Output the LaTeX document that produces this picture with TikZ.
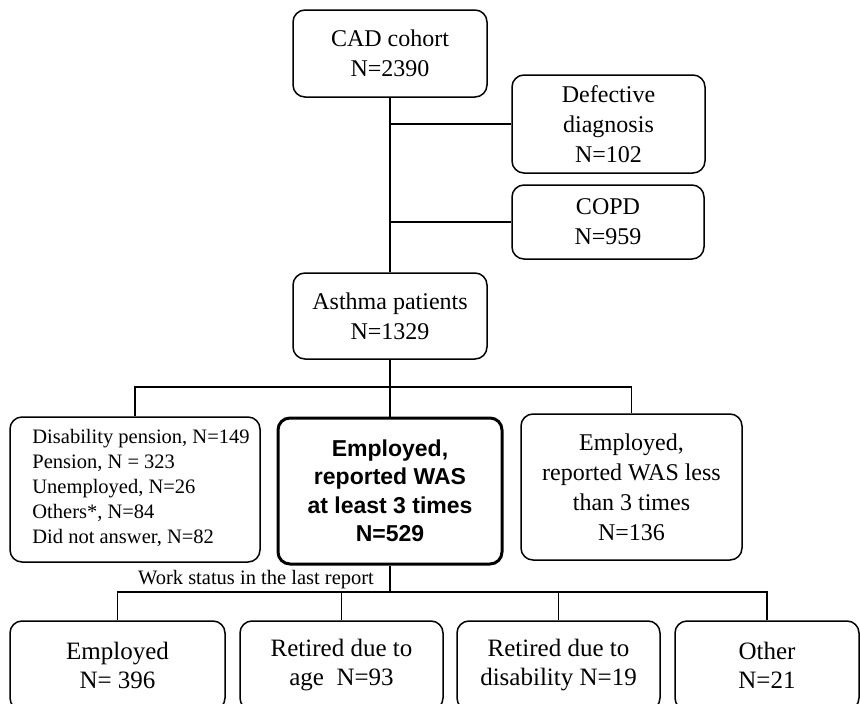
\documentclass[tikz,border=0pt]{standalone}
\usepackage{fontspec}
\setmainfont{Liberation Serif}
\newfontfamily\boldsans{Liberation Sans}
\begin{document}
\begin{tikzpicture}[x=1pt,y=-1pt,
  box/.style={draw, line width=1.5pt, rounded corners=12pt, align=center, inner sep=0pt,
    font=\fontsize{24}{30}\selectfont},
  bigbox/.style={box, line width=3pt, font=\boldsans\bfseries\fontsize{23}{28.5}\selectfont},
  listtext/.style={align=left, inner sep=0pt, font=\fontsize{20.5}{25}\selectfont},
  botbox/.style={box, font=\fontsize{25}{29}\selectfont},
  link/.style={line width=1.5pt}]
\useasboundingbox (0,0) rectangle (860,704);

\node[box, minimum width=194pt, minimum height=87pt] (cad) at (390,53.5) {CAD cohort\\N=2390};
\node[box, minimum width=193pt, minimum height=98pt] (def) at (608.5,124) {Defective\\diagnosis\\N=102};
\node[box, minimum width=192pt, minimum height=74pt] (copd) at (608,222) {COPD\\N=959};
\node[box, minimum width=194pt, minimum height=86pt] (asth) at (390,316) {Asthma patients\\N=1329};

\node[box, minimum width=250pt, minimum height=145pt] (left) at (135,489.5) {};
\node[listtext] (lefttext) at (141,488)
  {Disability pension, N=149\\Pension, N = 323\\Unemployed, N=26\\Others*, N=84\\Did not answer, N=82};
\node[bigbox, minimum width=224pt, minimum height=146pt] (emp) at (390,491)
  {Employed,\\reported WAS\\at least 3 times\\N=529};
\node[box, minimum width=221pt, minimum height=146pt] (right) at (631.5,487)
  {Employed,\\reported WAS less\\than 3 times\\N=136};

\node[font=\fontsize{20.5}{25}\selectfont, inner sep=0pt] (ws) at (256,580) {Work status in the last report};

\node[botbox, minimum width=215pt, minimum height=89pt] (b1) at (117.5,665.5) {Employed\\N= 396};
\node[botbox, minimum width=203pt, minimum height=89pt] (b2) at (341.5,665.5) {Retired due to\\age\ \ N=93};
\node[botbox, minimum width=203pt, minimum height=89pt] (b3) at (558.5,665.5) {Retired due to\\disability N=19};
\node[botbox, minimum width=184pt, minimum height=89pt] (b4) at (767,665.5) {Other\\N=21};

\coordinate (h1) at (390,387);
\coordinate (h2) at (390,592);

\draw[link] (cad.south) -- (asth.north);
\draw[link] (cad.south |- def.west) -- (def.west);
\draw[link] (cad.south |- copd.west) -- (copd.west);

\draw[link] (asth.south) -- (emp.north);
\draw[link] (left.north) -- (left.north |- h1) -- (right.north |- h1) -- (right.north);

\draw[link] (emp.south) -- (h2);
\draw[link] (b1.north) -- (b1.north |- h2) -- (b4.north |- h2) -- (b4.north);
\draw[link] (b2.north) -- (b2.north |- h2);
\draw[link] (b3.north) -- (b3.north |- h2);
\end{tikzpicture}
\end{document}
